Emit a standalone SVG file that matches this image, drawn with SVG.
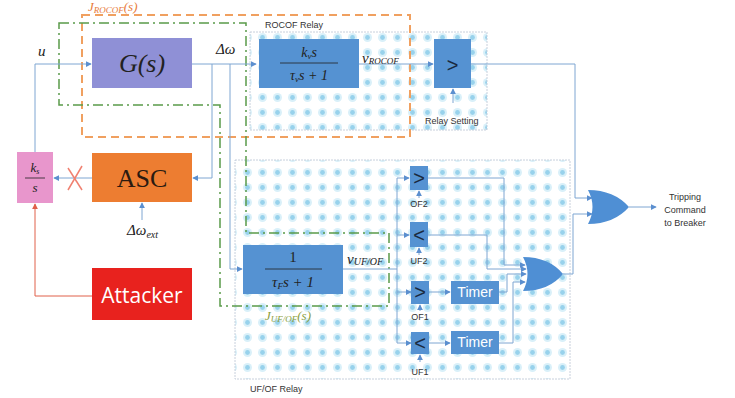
<svg xmlns="http://www.w3.org/2000/svg" width="735" height="398" viewBox="0 0 735 398">
<defs>
<pattern id="dots" x="0" y="0" width="15" height="15" patternUnits="userSpaceOnUse">
<circle cx="7.5" cy="7.5" r="4.5" fill="#d9f0f9"/>
<circle cx="7.5" cy="7.5" r="2.4" fill="#98d2ec"/>
</pattern>
<marker id="ar" viewBox="0 0 8 8" refX="7" refY="4" markerWidth="6" markerHeight="6" orient="auto">
<path d="M0,0 L8,4 L0,8 Z" fill="#5b8fcf"/>
</marker>
<marker id="arr" viewBox="0 0 8 8" refX="7" refY="4" markerWidth="6" markerHeight="6" orient="auto">
<path d="M0,0 L8,4 L0,8 Z" fill="#e0604a"/>
</marker>
<style>
.c{fill:none;stroke:#7fa6d2;stroke-width:1}
.ca{fill:none;stroke:#7fa6d2;stroke-width:1;marker-end:url(#ar)}
.blue{fill:#5592d2}
.cmp{font-family:"Liberation Sans",Arial,sans-serif;font-size:20px;fill:#1a2a40;text-anchor:middle}
.lbl{font-family:"Liberation Sans",Arial,sans-serif;font-size:9px;fill:#333}
.math{font-family:"Liberation Serif","Times New Roman",serif;font-style:italic;fill:#222}
.up{font-family:"Liberation Serif","Times New Roman",serif;font-style:normal;fill:#222}
.timer{font-family:"Liberation Sans",Arial,sans-serif;font-size:14px;fill:#fff;text-anchor:middle}
.region{fill:url(#dots);stroke:#c8d0dc;stroke-width:1;stroke-dasharray:2 1}
</style>
</defs>

<g id="rocof-relay">
<rect class="region" x="250" y="32" width="237" height="98"/>
<text class="lbl" x="265" y="28">ROCOF Relay</text>
</g>
<g id="ufof-relay">
<rect class="region" x="235" y="160" width="335" height="219"/>
<text class="lbl" x="250" y="392">UF/OF Relay</text>
</g>

<g id="j-rocof">
<rect x="82" y="15" width="328" height="122" fill="none" stroke="#f0a060" stroke-width="2" stroke-dasharray="8 5"/>
<text x="88" y="11" font-family="Liberation Serif,serif" font-style="italic" font-size="13" fill="#e87b3a">J<tspan font-size="9" dy="2">ROCOF</tspan><tspan dy="-2">(s)</tspan></text>
</g>
<g id="j-ufof">
<path d="M59,23 L246,23 L246,233 L389,233 L389,306 L220,306 L220,105 L59,105 Z" fill="none" stroke="#5a9a4a" stroke-width="1.5" stroke-dasharray="10 4 2 4"/>
<text x="265" y="320" font-family="Liberation Serif,serif" font-style="italic" font-size="13" fill="#8ca040">J<tspan font-size="9" dy="2">UF/OF</tspan><tspan dy="-2">(s)</tspan></text>
</g>

<g id="connectors">
<polyline class="ca" points="35,152 35,64 91,64"/>
<polyline class="ca" points="192,64 256,64"/>
<polyline class="ca" points="212,64 212,178 193,178"/>
<polyline class="ca" points="230,64 230,269 242,269"/>
<line class="ca" x1="92" y1="178" x2="54" y2="178"/>
<line x1="68" y1="168" x2="82" y2="190" stroke="#f08070" stroke-width="1.5"/>
<line x1="82" y1="166" x2="68" y2="190" stroke="#f08070" stroke-width="1.5"/>
<line class="ca" x1="142" y1="220" x2="142" y2="203"/>
<polyline points="92,296 35,296 35,204" fill="none" stroke="#e0604a" stroke-width="1" marker-end="url(#arr)"/>
<line class="ca" x1="359" y1="64" x2="433" y2="64"/>
<line class="ca" x1="453" y1="103" x2="453" y2="89"/>
<polyline class="ca" points="471,64 575,64 575,198 592,198"/>
<polyline class="ca" points="563,274 573,274 573,214 592,214"/>
<line class="ca" x1="629" y1="207" x2="656" y2="207"/>
<polyline class="c" points="343,269 397,269"/>
<line class="c" x1="397" y1="178" x2="397" y2="343"/>
<line class="ca" x1="397" y1="178" x2="409" y2="178"/>
<line class="ca" x1="397" y1="235" x2="409" y2="235"/>
<line class="ca" x1="397" y1="292" x2="411" y2="292"/>
<line class="ca" x1="397" y1="343" x2="411" y2="343"/>
<line class="ca" x1="419" y1="198" x2="419" y2="191"/>
<line class="ca" x1="419" y1="255" x2="419" y2="248"/>
<line class="ca" x1="420" y1="311" x2="420" y2="305"/>
<line class="ca" x1="420" y1="362" x2="420" y2="355"/>
<line class="ca" x1="429" y1="292" x2="450" y2="292"/>
<line class="ca" x1="429" y1="343" x2="450" y2="343"/>
<polyline class="ca" points="428,178 504,178 504,265 525,265"/>
<polyline class="ca" points="428,235 487,235 487,269 526,269"/>
<polyline class="ca" points="499,292 507,292 507,274 526,274"/>
<polyline class="ca" points="499,343 513,343 513,282 525,282"/>
</g>

<g id="G">
<rect x="92" y="38" width="100" height="50" fill="#8f90d6"/>
<text class="math" x="142" y="72" font-size="26" text-anchor="middle">G(s)</text>
</g>
<g id="ks">
<rect x="17" y="152" width="36" height="51" fill="#e896cc"/>
<text class="math" x="35" y="172" font-size="13" text-anchor="middle">k<tspan font-size="8" dy="2">s</tspan></text>
<line x1="25" y1="178" x2="45" y2="178" stroke="#222" stroke-width="0.8"/>
<text class="math" x="35" y="192" font-size="13" text-anchor="middle">s</text>
</g>
<g id="ASC">
<rect x="92" y="153" width="100" height="49" fill="#ed7d31"/>
<text x="142" y="187" font-family="Liberation Serif,serif" font-size="26" fill="#2a1a10" text-anchor="middle">ASC</text>
</g>
<g id="attacker">
<rect x="92" y="268" width="100" height="52" fill="#e8221e"/>
<text x="142" y="303" font-family="Open Sans,Liberation Sans,sans-serif" font-size="21" fill="#fff" text-anchor="middle">Attacker</text>
</g>
<g id="labels">
<text class="math" x="38" y="56" font-size="15">u</text>
<text class="math" x="216" y="54" font-size="15">Δω</text>
<text class="math" x="127" y="235" font-size="15">Δω<tspan font-size="10" dy="3">ext</tspan></text>
<text class="math" x="362" y="63" font-size="15">v<tspan font-size="9" dy="1">ROCOF</tspan></text>
<text class="math" x="347" y="264" font-size="15">v<tspan font-size="10" dy="1">UF/OF</tspan></text>
<text class="lbl" x="425" y="124">Relay Setting</text>
<text class="lbl" x="685" y="200" text-anchor="middle" font-size="10">Tripping</text>
<text class="lbl" x="685" y="213" text-anchor="middle" font-size="10">Command</text>
<text class="lbl" x="685" y="226" text-anchor="middle" font-size="10">to Breaker</text>
</g>
<g id="rocof-filter">
<rect class="blue" x="259" y="39" width="100" height="49"/>
<text class="math" x="309" y="57" font-size="14" text-anchor="middle">k<tspan font-size="9" dy="2">v</tspan><tspan dy="-2">s</tspan></text>
<line x1="280" y1="63" x2="338" y2="63" stroke="#222" stroke-width="0.8"/>
<text class="math" x="309" y="80" font-size="14" text-anchor="middle">τ<tspan font-size="9" dy="2">v</tspan><tspan dy="-2">s + 1</tspan></text>
</g>
<g id="rocof-cmp">
<rect class="blue" x="434" y="39" width="37" height="49"/>
<text class="cmp" x="452.5" y="72" font-size="24">&gt;</text>
</g>
<g id="ufof-filter">
<rect class="blue" x="243" y="245" width="100" height="49"/>
<text class="up" x="293" y="262" font-size="15" text-anchor="middle">1</text>
<line x1="265" y1="269" x2="322" y2="269" stroke="#222" stroke-width="0.8"/>
<text class="math" x="293" y="287" font-size="15" text-anchor="middle">τ<tspan font-size="9" dy="2">F</tspan><tspan dy="-2">s + 1</tspan></text>
</g>
<g id="OF2">
<rect class="blue" x="410" y="166" width="18" height="24"/>
<text class="cmp" x="419" y="185">&gt;</text>
<text class="lbl" x="419" y="207" text-anchor="middle" font-size="8">OF2</text>
</g>
<g id="UF2">
<rect class="blue" x="410" y="222" width="18" height="25"/>
<text class="cmp" x="419" y="242">&lt;</text>
<text class="lbl" x="419" y="264" text-anchor="middle" font-size="8">UF2</text>
</g>
<g id="OF1">
<rect class="blue" x="411" y="281" width="18" height="23"/>
<text class="cmp" x="420" y="299">&gt;</text>
<text class="lbl" x="420" y="320" text-anchor="middle" font-size="8">OF1</text>
</g>
<g id="UF1">
<rect class="blue" x="411" y="332" width="18" height="22"/>
<text class="cmp" x="420" y="350">&lt;</text>
<text class="lbl" x="420" y="375" text-anchor="middle" font-size="8">UF1</text>
</g>
<g id="timer1">
<rect class="blue" x="451" y="281" width="48" height="23"/>
<text class="timer" x="475" y="297">Timer</text>
</g>
<g id="timer2">
<rect class="blue" x="451" y="331" width="48" height="23"/>
<text class="timer" x="475" y="347">Timer</text>
</g>
<g id="or-small">
<path d="M523,257 Q549,257 563,274 Q549,291 523,291 Q532,274 523,257 Z" fill="#4f8fd4"/>
</g>
<g id="or-final">
<path d="M588,190 Q614,190 629,207 Q614,224 588,224 Q597,207 588,190 Z" fill="#4f8fd4"/>
</g>
</svg>
